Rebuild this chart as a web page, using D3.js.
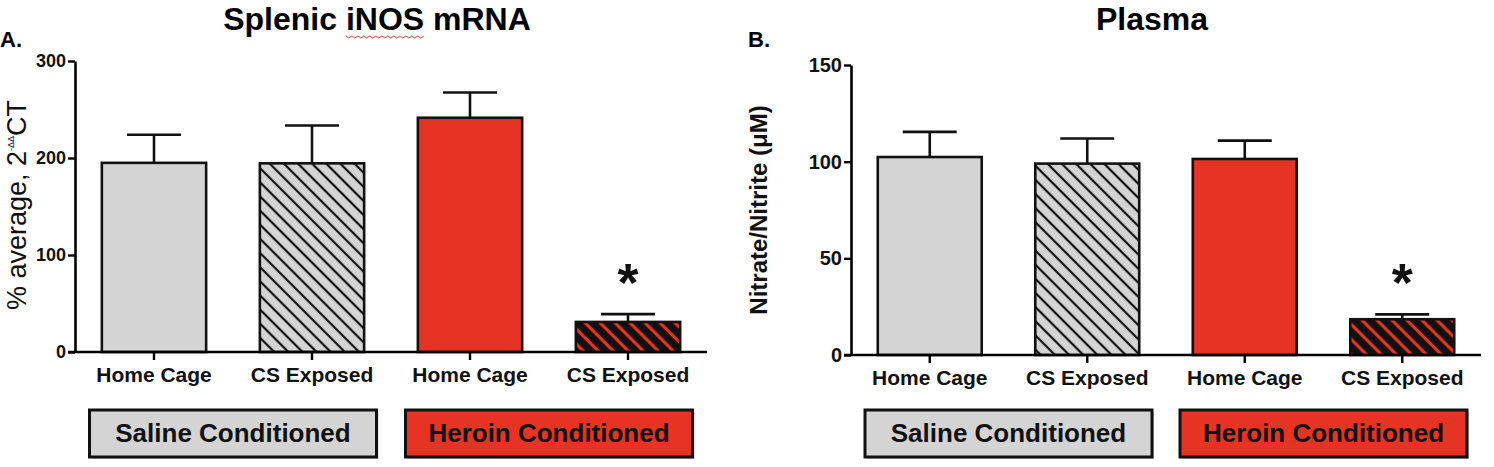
<!DOCTYPE html>
<html>
<head>
<meta charset="utf-8">
<script src="https://cdn.jsdelivr.net/npm/d3@7"></script>
<style>
  body { margin: 0; background: #fff; }
  svg { display: block; font-family: "Liberation Sans", Arial, Helvetica, sans-serif; }
</style>
</head>
<body>
<div id="fig"></div>
<script>
// bars, left to right
const categories = ["Home Cage", "CS Exposed", "Home Cage", "CS Exposed"];
const groups = ["Saline Conditioned", "Heroin Conditioned"];
const fills = ["gray", "grayHatch", "red", "redHatch"];

// panel A: splenic iNOS mRNA
const inosMean = [195, 194.5, 241.5, 31];
const inosSem = [29, 39, 26, 8];
const inosTicks = [0, 100, 200, 300];

// panel B: plasma nitrate/nitrite
const plasmaMean = [102.4, 99, 101.4, 18.5];
const plasmaSem = [13, 13, 9.5, 2.5];
const plasmaTicks = [0, 50, 100, 150];

const significant = [false, false, false, true];

const W = 1494, H = 467;
const gray = "#d4d4d4", red = "#e63323";

const svg = d3.select("#fig").append("svg")
  .attr("width", W)
  .attr("height", H);

const defs = svg.append("defs");
function stripes(id, bg, fg, size, lw) {
  const p = defs.append("pattern")
    .attr("id", id)
    .attr("patternUnits", "userSpaceOnUse")
    .attr("width", size)
    .attr("height", size)
    .attr("patternTransform", "rotate(45)");
  p.append("rect").attr("width", size).attr("height", size).attr("fill", bg);
  p.append("line")
    .attr("x1", 0).attr("x2", size)
    .attr("y1", size / 2).attr("y2", size / 2)
    .attr("stroke", fg)
    .attr("stroke-width", lw);
}
stripes("grayHatch", gray, "#111", 10, 2.2);
stripes("redHatch", "#111", red, 10.6, 3.2);

const fillFor = {
  gray: gray,
  red: red,
  grayHatch: "url(#grayHatch)",
  redHatch: "url(#redHatch)"
};

const panels = [
  {
    letter: "A.", letterX: 0,
    title: "Splenic iNOS mRNA", titleX: 377,
    mean: inosMean, sem: inosSem, ticks: inosTicks, yMax: 300,
    xRange: [75, 707], yRange: [352, 61], tickFont: 18
  },
  {
    letter: "B.", letterX: 748,
    title: "Plasma", titleX: 1152,
    mean: plasmaMean, sem: plasmaSem, ticks: plasmaTicks, yMax: 150,
    xRange: [851, 1481], yRange: [355, 65], tickFont: 20
  }
];

panels.forEach((p, pi) => {
  const g = svg.append("g");

  const x = d3.scaleBand()
    .domain(d3.range(categories.length))
    .range(p.xRange)
    .paddingInner(0.34)
    .paddingOuter(0.17);
  const y = d3.scaleLinear()
    .domain([0, p.yMax])
    .range(p.yRange);

  // titles
  g.append("text")
    .attr("x", p.letterX)
    .attr("y", 47)
    .style("font-size", "22px")
    .style("font-weight", "bold")
    .text(p.letter);

  const title = g.append("text")
    .attr("x", p.titleX)
    .attr("y", 30)
    .attr("text-anchor", "middle")
    .style("font-size", "32px")
    .style("font-weight", "bold")
    .text(p.title);

  // spell-check squiggle under "iNOS" (it is in the screenshot)
  const k = p.title.indexOf("iNOS");
  if (k >= 0) {
    const node = title.node();
    const sx = node.getStartPositionOfChar(k).x;
    const len = node.getSubStringLength(k, 4);
    const pts = d3.range(0, Math.floor(len / 3) + 1).map(i => [sx + i * 3, 36 + (i % 2 ? 2 : 0)]);
    g.append("path")
      .attr("d", d3.line()(pts))
      .attr("fill", "none")
      .attr("stroke", "#e0413a")
      .attr("stroke-width", 1);
  }

  // bars
  g.selectAll(".bar")
    .data(p.mean)
    .enter()
    .append("rect")
      .attr("class", "bar")
      .attr("x", (d, i) => x(i))
      .attr("y", d => y(d))
      .attr("width", x.bandwidth())
      .attr("height", d => y(0) - y(d))
      .attr("fill", (d, i) => fillFor[fills[i]])
      .attr("stroke", "#111")
      .attr("stroke-width", 2.6);

  // error bars (upper only)
  const cap = 27;
  const eb = g.selectAll(".err")
    .data(p.mean)
    .enter()
    .append("g")
      .attr("class", "err")
      .attr("stroke", "#111")
      .attr("stroke-width", 2.6);
  eb.append("line")
    .attr("x1", (d, i) => x(i) + x.bandwidth() / 2)
    .attr("x2", (d, i) => x(i) + x.bandwidth() / 2)
    .attr("y1", d => y(d))
    .attr("y2", (d, i) => y(d + p.sem[i]));
  eb.append("line")
    .attr("x1", (d, i) => x(i) + x.bandwidth() / 2 - cap)
    .attr("x2", (d, i) => x(i) + x.bandwidth() / 2 + cap)
    .attr("y1", (d, i) => y(d + p.sem[i]))
    .attr("y2", (d, i) => y(d + p.sem[i]));

  // significance stars
  g.selectAll(".star")
    .data(p.mean.map((d, i) => ({ v: d + p.sem[i], i })).filter(d => significant[d.i]))
    .enter()
    .append("text")
      .attr("x", d => x(d.i) + x.bandwidth() / 2)
      .attr("y", d => y(d.v) - 13)
      .attr("text-anchor", "middle")
      .style("font-size", "54px")
      .style("font-weight", "bold")
      .attr("fill", "#111")
      .text("*");

  // y axis
  const yAxis = g.append("g")
    .attr("transform", `translate(${p.xRange[0]},0)`)
    .call(d3.axisLeft(y).tickValues(p.ticks).tickSize(7).tickSizeOuter(0).tickPadding(2));
  yAxis.select(".domain").attr("stroke-width", 2.6);
  yAxis.selectAll(".tick line").attr("stroke-width", 2.4);
  yAxis.selectAll("text")
    .style("font-size", p.tickFont + "px")
    .style("font-weight", "bold")
    .style("font-family", "Liberation Sans, Arial, sans-serif")
    .attr("fill", "#111");

  // x axis
  const xAxis = g.append("g")
    .attr("transform", `translate(0,${y(0)})`)
    .call(d3.axisBottom(x).tickSize(8).tickSizeOuter(0).tickFormat(i => categories[i]));
  xAxis.select(".domain")
    .attr("d", `M${p.xRange[0] - 7},0H${p.xRange[1]}`)
    .attr("stroke-width", 2.6);
  xAxis.selectAll(".tick line").attr("stroke-width", 2.4);
  xAxis.selectAll("text")
    .attr("y", 30)
    .attr("dy", 0)
    .style("font-size", "21px")
    .style("font-weight", "bold")
    .style("font-family", "Liberation Sans, Arial, sans-serif")
    .attr("fill", "#111");

  // y label
  if (pi === 0) {
    const yl = g.append("text")
      .attr("transform", "translate(26,205) rotate(-90)")
      .attr("text-anchor", "middle")
      .style("font-size", "27px")
      .attr("fill", "#111");
    yl.append("tspan").text("% average, 2");
    yl.append("tspan").attr("dy", -12).style("font-size", "9px").text("-ΔΔ");
    yl.append("tspan").attr("dy", 12).text("CT");
  } else {
    g.append("text")
      .attr("transform", "translate(767,210) rotate(-90)")
      .attr("text-anchor", "middle")
      .style("font-size", "24px")
      .style("font-weight", "bold")
      .attr("fill", "#111")
      .text("Nitrate/Nitrite (μM)");
  }

  // group boxes
  const boxW = 287;
  groups.forEach((name, gi) => {
    const c = (x(gi * 2) + x(gi * 2 + 1) + x.bandwidth()) / 2;
    g.append("rect")
      .attr("x", c - boxW / 2 + 2)
      .attr("y", 412)
      .attr("width", boxW)
      .attr("height", 47)
      .attr("fill", "#9a9a9a")
      .attr("opacity", 0.5);
    g.append("rect")
      .attr("x", c - boxW / 2)
      .attr("y", 410)
      .attr("width", boxW)
      .attr("height", 47)
      .attr("fill", gi === 0 ? gray : red)
      .attr("stroke", "#111")
      .attr("stroke-width", 3);
    g.append("text")
      .attr("x", c)
      .attr("y", 442)
      .attr("text-anchor", "middle")
      .style("font-size", "26px")
      .style("font-weight", "bold")
      .attr("fill", "#111")
      .text(name);
  });
});
</script>
</body>
</html>
